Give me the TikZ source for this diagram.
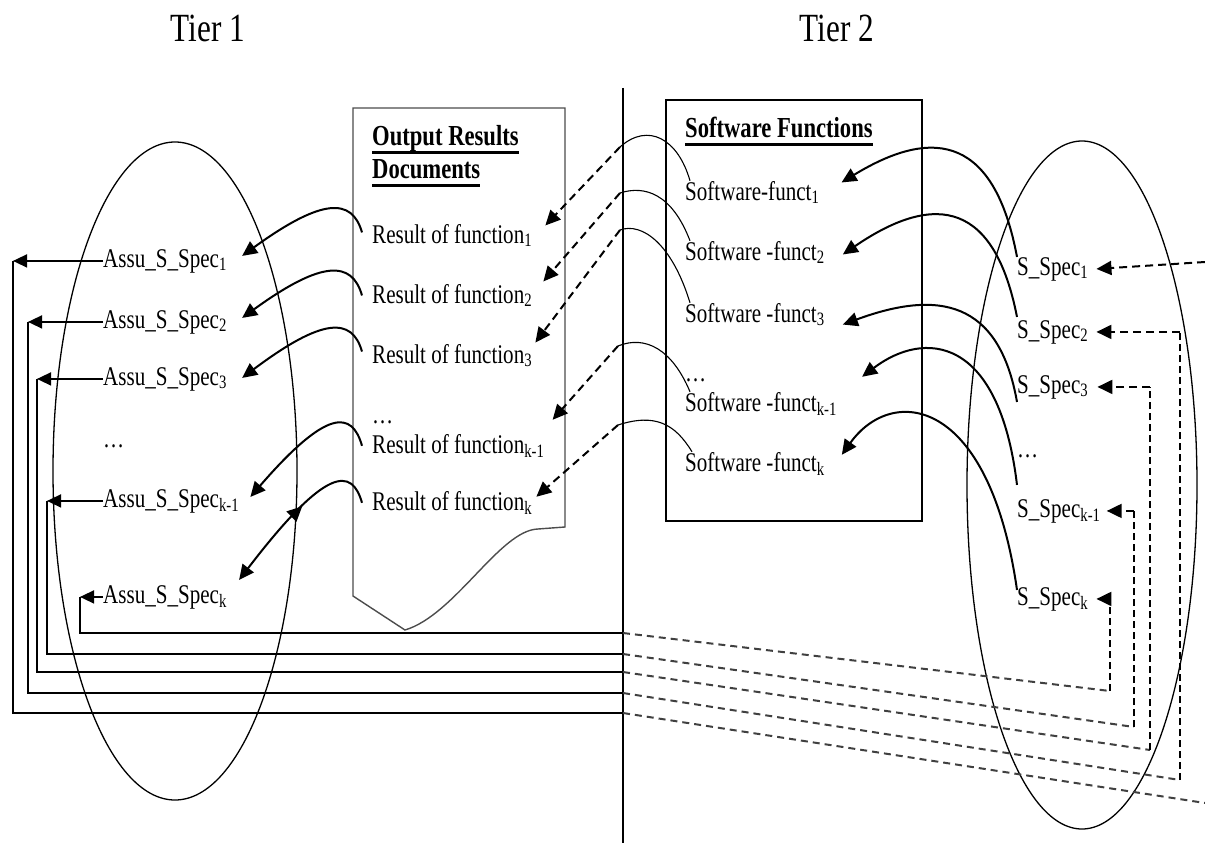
\documentclass[tikz,border=0pt]{standalone}
\usepackage{fontspec}
\setmainfont[FakeStretch=0.78]{Liberation Serif}
\usetikzlibrary{arrows.meta,shapes.geometric,decorations.markings}
\newcommand{\hdrline}[1]{\setbox0=\hbox{\textbf{#1}}\rlap{\rule[-9pt]{\wd0}{3pt}}\box0}

\begin{document}
\begin{tikzpicture}[x=1pt,y=-1pt,font=\fontsize{27}{32}\selectfont,
  lbl/.style={inner sep=0pt,anchor=base west},
  heading/.style={lbl,font=\fontsize{29}{34}\selectfont},
  tierlabel/.style={inner sep=0pt,anchor=base,font=\fontsize{40}{46}\selectfont},
  setoval/.style={draw,ellipse,line width=1.3pt,inner sep=0pt},
  flowarrow/.style={line width=2pt,-{Triangle[length=15pt,width=14pt]}},
  linkcurve/.style={line width=1.1pt},
  feedarrow/.style={line width=2pt,dash pattern=on 8pt off 5pt,-{Triangle[length=15pt,width=14pt]}},
  routearrow/.style={line width=1.5pt,-{Triangle[length=14pt,width=13pt]}},
  routeline/.style={line width=1.3pt},
  slopeline/.style={line width=2pt,black!75,dash pattern=on 7pt off 5pt},
  riseline/.style={line width=1.2pt,dash pattern=on 7pt off 4pt}]
\useasboundingbox (0,0) rectangle (1205,843);

\node[tierlabel] (tier1) at (208,42) {Tier 1};
\node[tierlabel] (tier2) at (837,42) {Tier 2};

\coordinate (divtop) at (623,88);
\coordinate (divbot) at (623,843);
\draw[line width=1.2pt] (divtop) -- (divbot);

\node[setoval,minimum width=244pt,minimum height=658pt] (tierone) at (175,471) {};
\node[setoval,minimum width=230pt,minimum height=688pt] (tiertwo) at (1082,485) {};

\draw[line width=1.4pt,black!70] (353,108) -- (565,108) -- (565,527) -- (538,529)
  .. controls (500,530) and (455,615) .. (405,630) -- (353,596) -- cycle;
\draw[line width=1.3pt] (666,100) rectangle (922,521);

\node[heading] (outhdr1) at (372,145) {\hdrline{Output Results}};
\node[heading] (outhdr2) at (372,178) {\hdrline{Documents}};
\node[heading] (swhdr) at (685,137) {\hdrline{Software Functions}};

\node[lbl] (res1) at (372,243) {Result of function\textsubscript{1}};
\node[lbl] (res2) at (372,303) {Result of function\textsubscript{2}};
\node[lbl] (res3) at (372,363) {Result of function\textsubscript{3}};
\node[lbl] (resdots) at (372,423) {\ldots};
\node[lbl] (resk1) at (372,453) {Result of function\textsubscript{k-1}};
\node[lbl] (resk) at (372,510) {Result of function\textsubscript{k}};

\node[lbl] (sw1) at (685,200) {Software-funct\textsubscript{1}};
\node[lbl] (sw2) at (685,260) {Software -funct\textsubscript{2}};
\node[lbl] (sw3) at (685,322) {Software -funct\textsubscript{3}};
\node[lbl] (swdots) at (685,381) {\ldots};
\node[lbl] (swk1) at (685,411) {Software -funct\textsubscript{k-1}};
\node[lbl] (swk) at (685,471) {Software -funct\textsubscript{k}};

\node[lbl] (ss1) at (1017,275) {S\_Spec\textsubscript{1}};
\node[lbl] (ss2) at (1017,338) {S\_Spec\textsubscript{2}};
\node[lbl] (ss3) at (1017,393) {S\_Spec\textsubscript{3}};
\node[lbl] (ssdots) at (1017,457) {\ldots};
\node[lbl] (ssk1) at (1017,517) {S\_Spec\textsubscript{k-1}};
\node[lbl] (ssk) at (1017,605) {S\_Spec\textsubscript{k}};

\node[lbl] (as1) at (103,267) {Assu\_S\_Spec\textsubscript{1}};
\node[lbl] (as2) at (103,328) {Assu\_S\_Spec\textsubscript{2}};
\node[lbl] (as3) at (103,385) {Assu\_S\_Spec\textsubscript{3}};
\node[lbl] (asdots) at (103,447) {\ldots};
\node[lbl] (ask1) at (103,507) {Assu\_S\_Spec\textsubscript{k-1}};
\node[lbl] (ask) at (103,603) {Assu\_S\_Spec\textsubscript{k}};

% results to tier 1
\draw[flowarrow] ([xshift=-10pt,yshift=3pt]res1.west) .. controls +(-10,-35) and +(80,-58) .. ([xshift=15pt,yshift=5pt]as1.east);
\draw[flowarrow] ([xshift=-10pt]res2.west) .. controls +(-10,-35) and +(80,-58) .. ([xshift=15pt,yshift=4pt]as2.east);
\draw[flowarrow] ([xshift=-10pt,yshift=4pt]res3.west) .. controls +(-10,-35) and +(80,-60) .. ([xshift=15pt,yshift=1pt]as3.east);
\draw[flowarrow] ([xshift=-10pt]resk1.west) .. controls +(-10,-35) and +(77,-89) .. ([xshift=11pt,yshift=4pt]ask1.east);
\draw[flowarrow,postaction={decorate},decoration={markings,mark=at position 0.45 with {\arrowreversed{Triangle[length=15pt,width=14pt]}}}]
  ([xshift=-10pt]resk.west) .. controls +(-10,-35) and +(88,-115) .. ([xshift=12pt,yshift=17pt]ask.east);

% software functions to results
\coordinate (bend1) at (620,147);
\coordinate (bend2) at (620,193);
\coordinate (bend3) at (620,230);
\coordinate (bend4) at (618,346);
\coordinate (bend5) at (618,425);
\draw[linkcurve] ([xshift=5pt]sw1.north west) .. controls +(-12,-42) and +(28,-25) .. (bend1);
\draw[feedarrow] (bend1) -- ([xshift=13pt,yshift=10pt]res1.east);
\draw[linkcurve] ([xshift=5pt]sw2.north west) .. controls +(-18,-47) and +(25,-8) .. (bend2);
\draw[feedarrow] (bend2) -- ([xshift=11pt,yshift=14pt]res2.east);
\draw[linkcurve] ([xshift=5pt]sw3.north west) .. controls +(-18,-59) and +(22,-8) .. (bend3);
\draw[feedarrow] (bend3) -- ([xshift=3pt,yshift=13pt]res3.east);
\draw[linkcurve] ([xshift=5pt]swk1.north west) .. controls +(-18,-43) and +(27,-11) .. (bend4);
\draw[feedarrow] (bend4) -- ([xshift=8pt,yshift=26pt]resk1.east);
\draw[linkcurve] ([xshift=7pt]swk.north west) .. controls +(-17,-28) and +(37,-12) .. (bend5);
\draw[feedarrow] (bend5) -- ([xshift=4pt,yshift=6pt]resk.east);

% specs to software functions
\draw[flowarrow] (ss1.north west) .. controls +(-22,-117) and +(95,-58) .. ([xshift=22pt,yshift=10pt]sw1.east);
\draw[flowarrow] ([yshift=3pt]ss2.north west) .. controls +(-22,-112) and +(95,-65) .. ([xshift=18pt,yshift=-2pt]sw2.east);
\draw[flowarrow] ([yshift=-3pt]ss3.south west) .. controls +(-18,-102) and +(95,-35) .. ([xshift=18pt,yshift=-10pt]sw3.east);
\draw[flowarrow] ([yshift=14pt]ssk1.north west) .. controls +(-18,-150) and +(62,-47) .. ([xshift=25pt,yshift=27pt]swk1.east);
\draw[flowarrow] ([yshift=-3pt]ssk.north west) .. controls +(-28,-195) and +(50,-70) .. ([xshift=17pt,yshift=9pt]swk.east);

% assumption specs back to tier 2
\coordinate (turn1) at (13,713);
\coordinate (turn2) at (28,693);
\coordinate (turn3) at (37,672);
\coordinate (turn4) at (47,654);
\coordinate (turn5) at (80,633);
\coordinate (rise1) at (1205,803);
\coordinate (entry1) at (1205,262);
\coordinate (rise2) at (1180,780);
\coordinate (rise3) at (1150,750);
\coordinate (rise4) at (1134,727);
\coordinate (rise5) at (1110,691);

\draw[routearrow] (as1.west) -- (as1.west -| turn1);
\draw[routeline] (as1.west -| turn1) -- (turn1) -- (turn1 -| divtop);
\draw[slopeline] (turn1 -| divtop) -- (rise1);
\draw[feedarrow] (entry1) -- ([xshift=8pt]ss1.east);

\draw[routearrow] (as2.west) -- (as2.west -| turn2);
\draw[routeline] (as2.west -| turn2) -- (turn2) -- (turn2 -| divtop);
\draw[slopeline] (turn2 -| divtop) -- (rise2);
\draw[riseline] (rise2) -- (rise2 |- ss2.east);
\draw[feedarrow] (rise2 |- ss2.east) -- ([xshift=8pt]ss2.east);

\draw[routearrow] (as3.west) -- (as3.west -| turn3);
\draw[routeline] (as3.west -| turn3) -- (turn3) -- (turn3 -| divtop);
\draw[slopeline] (turn3 -| divtop) -- (rise3);
\draw[riseline] (rise3) -- (rise3 |- ss3.east);
\draw[feedarrow] (rise3 |- ss3.east) -- ([xshift=9pt]ss3.east);

\draw[routearrow] (ask1.west) -- (ask1.west -| turn4);
\draw[routeline] (ask1.west -| turn4) -- (turn4) -- (turn4 -| divtop);
\draw[slopeline] (turn4 -| divtop) -- (rise4);
\draw[riseline] (rise4) -- (rise4 |- ssk1.east);
\draw[feedarrow] (rise4 |- ssk1.east) -- ([xshift=6pt]ssk1.east);

\draw[routearrow] (ask.west) -- (ask.west -| turn5);
\draw[routeline] (ask.west -| turn5) -- (turn5) -- (turn5 -| divtop);
\draw[slopeline] (turn5 -| divtop) -- (rise5);
\draw[riseline] (rise5) -- (rise5 |- ssk.east);
\draw[feedarrow] (rise5 |- ssk.east) -- ([xshift=8pt]ssk.east);
\end{tikzpicture}
\end{document}
